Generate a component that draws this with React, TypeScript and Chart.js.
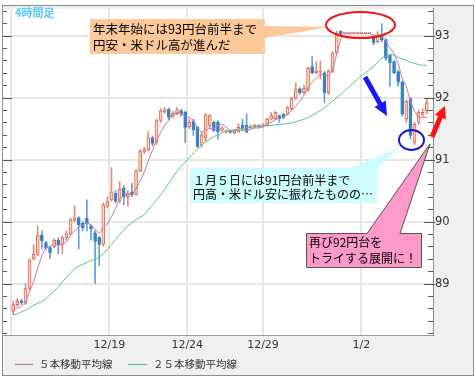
import React, { useEffect, useRef } from 'react';
import { Chart, registerables } from 'chart.js';

Chart.register(...registerables);

// 4-hour candles (USD/JPY)
const opens = [
  88.55, 88.66, 88.72, 88.69, 88.92, 89.40, 89.47, 89.78, 89.66, 89.58,
  89.60, 89.70, 89.63, 89.74, 89.80, 90.02, 90.06, 89.97, 90.05, 89.93,
  89.82, 89.74, 89.63, 90.25, 90.35, 90.46, 90.33, 90.54, 90.40, 90.48,
  90.44, 90.82, 91.13, 91.16, 91.35, 91.28, 91.63, 91.77, 91.81, 91.70,
  91.74, 91.79, 91.76, 91.53, 91.62, 91.52, 91.23, 91.35, 91.55, 91.60,
  91.60, 91.47, 91.44, 91.45, 91.43, 91.45, 91.56, 91.55, 91.52, 91.53,
  91.54, 91.53, 91.55, 91.65, 91.66, 91.71, 91.73, 91.73, 91.82, 91.99,
  92.14, 92.08, 92.13, 92.50, 92.40, 92.41, 92.40, 92.08, 92.42, 92.72,
  93.07, 93.04, 93.04, 93.04, 93.04, 93.04, 93.04, 93.04, 92.98, 92.90,
  93.00, 92.93, 92.68, 92.58, 92.42, 92.25, 91.65, 91.98, 91.28, 91.60,
  91.73, 91.79,
];
const highs = [
  88.72, 88.76, 88.75, 89.00, 89.40, 89.63, 89.93, 89.85, 89.68, 89.60,
  89.72, 89.74, 89.77, 89.85, 90.05, 90.25, 90.08, 90.00, 90.35, 89.95,
  89.85, 89.76, 90.30, 90.40, 90.87, 90.50, 90.65, 90.58, 90.50, 90.62,
  90.84, 91.16, 91.20, 91.45, 91.38, 91.66, 91.82, 91.84, 91.83, 91.78,
  91.84, 91.81, 91.78, 91.65, 91.65, 91.54, 91.45, 91.74, 91.73, 91.62,
  91.63, 91.53, 91.48, 91.47, 91.48, 91.58, 91.65, 91.74, 91.56, 91.57,
  91.56, 91.58, 91.67, 91.76, 91.78, 91.72, 91.75, 91.86, 92.00, 92.24,
  92.16, 92.20, 92.49, 92.66, 92.58, 92.59, 92.42, 92.45, 92.74, 93.07,
  93.08, 93.05, 93.05, 93.05, 93.05, 93.05, 93.05, 93.05, 93.00, 93.07,
  93.19, 92.95, 92.70, 92.60, 92.44, 92.27, 91.96, 92.00, 91.60, 91.80,
  91.82, 91.97,
];
const lows = [
  88.50, 88.63, 88.66, 88.66, 88.90, 89.38, 89.45, 89.56, 89.55, 89.40,
  89.58, 89.48, 89.48, 89.70, 89.78, 90.00, 89.56, 89.85, 89.85, 89.70,
  89.00, 89.29, 89.60, 90.22, 90.33, 90.30, 90.30, 90.27, 90.25, 90.40,
  90.42, 90.80, 91.10, 91.14, 91.22, 91.24, 91.60, 91.74, 91.64, 91.68,
  91.72, 91.70, 91.28, 91.50, 91.39, 91.19, 91.20, 91.28, 91.50, 91.45,
  91.33, 91.45, 91.42, 91.42, 91.41, 91.44, 91.47, 91.43, 91.50, 91.51,
  91.51, 91.52, 91.54, 91.64, 91.65, 91.60, 91.66, 91.72, 91.80, 91.97,
  92.05, 92.06, 92.10, 92.38, 92.38, 92.30, 91.92, 92.05, 92.40, 92.70,
  93.00, 93.03, 93.03, 93.03, 93.03, 93.03, 93.03, 93.03, 92.85, 92.88,
  92.90, 92.60, 92.18, 92.38, 92.18, 91.70, 91.60, 91.33, 91.24, 91.57,
  91.70, 91.74,
];
const closes = [
  88.66, 88.72, 88.69, 88.92, 89.37, 89.47, 89.78, 89.69, 89.58, 89.50,
  89.70, 89.62, 89.74, 89.80, 90.03, 90.06, 89.95, 89.90, 89.98, 89.88,
  89.68, 89.63, 90.27, 90.32, 90.48, 90.33, 90.52, 90.40, 90.46, 90.43,
  90.82, 91.14, 91.16, 91.35, 91.26, 91.63, 91.78, 91.80, 91.68, 91.75,
  91.80, 91.73, 91.52, 91.60, 91.48, 91.21, 91.40, 91.72, 91.71, 91.47,
  91.45, 91.51, 91.46, 91.44, 91.46, 91.52, 91.49, 91.44, 91.54, 91.56,
  91.53, 91.56, 91.65, 91.71, 91.76, 91.66, 91.68, 91.84, 91.99, 92.13,
  92.08, 92.15, 92.47, 92.40, 92.43, 92.43, 92.08, 92.43, 92.72, 93.04,
  93.02, 93.04, 93.04, 93.04, 93.04, 93.04, 93.04, 93.04, 92.88, 93.01,
  92.93, 92.63, 92.56, 92.40, 92.25, 91.73, 91.94, 91.39, 91.57, 91.76,
  91.76, 91.92,
];
// 5-bar moving average
const ma5 = [
  88.58, 88.60, 88.63, 88.70, 88.87, 89.03, 89.25, 89.45, 89.58, 89.60,
  89.65, 89.62, 89.63, 89.67, 89.78, 89.85, 89.92, 89.95, 89.98, 89.95,
  89.88, 89.81, 89.89, 89.96, 90.08, 90.21, 90.38, 90.41, 90.44, 90.43,
  90.53, 90.65, 90.80, 90.98, 91.15, 91.31, 91.44, 91.56, 91.63, 91.73,
  91.76, 91.75, 91.70, 91.68, 91.63, 91.51, 91.44, 91.48, 91.50, 91.50,
  91.55, 91.57, 91.52, 91.47, 91.46, 91.48, 91.47, 91.47, 91.49, 91.51,
  91.51, 91.53, 91.57, 91.60, 91.64, 91.67, 91.69, 91.73, 91.79, 91.86,
  91.94, 92.04, 92.16, 92.25, 92.31, 92.38, 92.36, 92.35, 92.45, 92.70,
  92.95, 93.03, 93.03, 93.03, 93.03, 93.03, 93.03, 93.03, 93.01, 93.00,
  92.98, 92.90, 92.80, 92.71, 92.55, 92.31, 92.18, 91.94, 91.78, 91.68,
  91.68, 91.68,
];
// 25-bar moving average
const ma25 = [
  88.49, 88.51, 88.54, 88.57, 88.61, 88.65, 88.68, 88.71, 88.76, 88.82,
  88.88, 88.94, 89.02, 89.10, 89.17, 89.24, 89.28, 89.31, 89.34, 89.37,
  89.39, 89.42, 89.48, 89.56, 89.63, 89.71, 89.79, 89.86, 89.93, 89.98,
  90.03, 90.07, 90.11, 90.19, 90.27, 90.35, 90.43, 90.52, 90.62, 90.72,
  90.81, 90.89, 90.96, 91.03, 91.10, 91.17, 91.23, 91.29, 91.33, 91.37,
  91.40, 91.43, 91.46, 91.47, 91.48, 91.49, 91.50, 91.51, 91.52, 91.53,
  91.54, 91.54, 91.55, 91.55, 91.56, 91.57, 91.57, 91.58, 91.59, 91.61,
  91.63, 91.65, 91.68, 91.71, 91.75, 91.79, 91.84, 91.89, 91.94, 92.00,
  92.05, 92.11, 92.17, 92.23, 92.29, 92.35, 92.40, 92.45, 92.50, 92.57,
  92.64, 92.67, 92.69, 92.69, 92.65, 92.62, 92.60, 92.57, 92.55, 92.53,
  92.52, 92.52,
];

// day boundaries (in bar units) and their labels
const xTickPos = [-0.5, 23.5, 42.5, 61, 85];
const xTickLabels = ['', '12/19', '12/24', '12/29', '1/2'];
const yTickValues = [89, 90, 91, 92, 93];
const legendLabels = ['５本移動平均線', '２５本移動平均線'];
const timeframeLabel = '4時間足';
const note1 = ['年末年始には93円台前半まで', '円安・米ドル高が進んだ'];
const note2 = ['１月５日には91円台前半まで', '円高・米ドル安に振れたものの…'];
const note3 = ['再び92円台を', 'トライする展開に！'];

const JP = '"Noto Sans CJK JP", "Noto Sans", sans-serif';
const UP_BORDER = '#e2694e';
const UP_FILL = '#f9d4c7';
const DOWN = '#3a80c2';
const UP_WICK = '#e58a76';
const DOWN_WICK = '#62a0d6';
const MA5_COLOR = '#c57aa6';
const MA25_COLOR = '#4fc98a';

function drawArrow(ctx: CanvasRenderingContext2D, x1: number, y1: number, x2: number, y2: number, color: string, w: number, hl: number, hw: number) {
  const ang = Math.atan2(y2 - y1, x2 - x1);
  const c = Math.cos(ang), s = Math.sin(ang);
  const bx = x2 - hl * c, by = y2 - hl * s;
  ctx.save();
  ctx.strokeStyle = color;
  ctx.fillStyle = color;
  ctx.lineWidth = w;
  ctx.beginPath();
  ctx.moveTo(x1, y1);
  ctx.lineTo(bx + c, by + s);
  ctx.stroke();
  ctx.beginPath();
  ctx.moveTo(x2, y2);
  ctx.lineTo(bx - (hw / 2) * s, by + (hw / 2) * c);
  ctx.lineTo(bx + (hw / 2) * s, by - (hw / 2) * c);
  ctx.closePath();
  ctx.fill();
  ctx.restore();
}

function drawEllipse(ctx: CanvasRenderingContext2D, cx: number, cy: number, rx: number, ry: number, color: string) {
  ctx.save();
  ctx.strokeStyle = color;
  ctx.lineWidth = 2;
  ctx.beginPath();
  ctx.ellipse(cx, cy, rx, ry, 0, 0, Math.PI * 2);
  ctx.stroke();
  ctx.restore();
}

function drawLines(ctx: CanvasRenderingContext2D, lines: string[], x: number, y: number, gap: number, size: number) {
  ctx.save();
  ctx.fillStyle = '#000';
  ctx.font = `${size}px ${JP}`;
  ctx.textBaseline = 'middle';
  ctx.textAlign = 'left';
  lines.forEach((t, i) => ctx.fillText(t, x, y + i * gap));
  ctx.restore();
}

const decorPlugin = {
  id: 'decor',
  beforeDraw(chart: any) {
    const { ctx, chartArea: a } = chart;
    ctx.save();
    ctx.fillStyle = '#ffffff';
    ctx.fillRect(0, 0, chart.width, chart.height);
    ctx.fillStyle = '#f0f0f0';
    ctx.fillRect(2, 5, 472, 371);
    ctx.fillStyle = '#ffffff';
    ctx.fillRect(a.left, a.top, a.right - a.left, a.bottom - a.top);
    ctx.restore();
  },
  afterDraw(chart: any) {
    const { ctx, chartArea: a } = chart;
    const ys = chart.scales.y;
    ctx.save();
    // frame
    ctx.strokeStyle = '#8c8c8c';
    ctx.lineWidth = 1;
    ctx.strokeRect(2.5, 5.5, 471, 370);
    // tick marks on both sides
    ctx.strokeStyle = '#555';
    for (let k = 1; k < 40; k++) {
      const v = 88 + 0.2 * k;
      if (v > ys.max) break;
      if (v < ys.min) continue;
      const py = Math.round(ys.getPixelForValue(v)) + 0.5;
      const major = Math.abs(v - Math.round(v)) < 1e-6;
      ctx.beginPath();
      ctx.moveTo(a.left, py);
      ctx.lineTo(a.left + (major ? 9 : 4), py);
      ctx.moveTo(a.right - (major ? 9 : 5), py);
      ctx.lineTo(a.right + (major ? 2 : 0), py);
      ctx.stroke();
    }
    // timeframe label
    ctx.fillStyle = '#5cc8f5';
    ctx.font = `bold 11px ${JP}`;
    ctx.textBaseline = 'middle';
    ctx.fillText(timeframeLabel, 15, 13);
    // legend
    ctx.lineWidth = 1.2;
    ctx.strokeStyle = MA5_COLOR;
    ctx.beginPath(); ctx.moveTo(15, 364.5); ctx.lineTo(33, 364.5); ctx.stroke();
    ctx.strokeStyle = MA25_COLOR;
    ctx.beginPath(); ctx.moveTo(128, 364.5); ctx.lineTo(147, 364.5); ctx.stroke();
    ctx.fillStyle = '#333';
    ctx.font = `10.5px ${JP}`;
    ctx.fillText(legendLabels[0], 39, 364);
    ctx.fillText(legendLabels[1], 153, 364);

    // note 1 (peach)
    ctx.fillStyle = '#fdc99b';
    ctx.fillRect(90, 19, 175, 35);
    ctx.beginPath();
    ctx.moveTo(264, 26); ctx.lineTo(264, 38); ctx.lineTo(330, 27); ctx.closePath();
    ctx.fill();
    drawLines(ctx, note1, 93, 29, 16, 12.5);
    drawEllipse(ctx, 360.5, 25, 34.5, 13, '#ee1515');

    // note 2 (cyan)
    ctx.fillStyle = '#ccfcfe';
    ctx.fillRect(190, 168, 187, 35);
    ctx.beginPath();
    ctx.moveTo(350, 168.5); ctx.lineTo(377, 168.5); ctx.lineTo(400, 147); ctx.closePath();
    ctx.fill();
    drawLines(ctx, note2, 193, 180, 14, 12);
    drawEllipse(ctx, 411.5, 140, 12.5, 10, '#1515dd');

    // note 3 (pink)
    ctx.fillStyle = '#fd9acb';
    ctx.strokeStyle = '#555';
    ctx.lineWidth = 1;
    ctx.beginPath();
    ctx.moveTo(306.5, 233.5);
    ctx.lineTo(367, 233.5);
    ctx.lineTo(430, 144);
    ctx.lineTo(400, 233.5);
    ctx.lineTo(421.5, 233.5);
    ctx.lineTo(421.5, 267.5);
    ctx.lineTo(306.5, 267.5);
    ctx.closePath();
    ctx.fill();
    ctx.stroke();
    drawLines(ctx, note3, 309, 242, 16, 12);

    // arrows
    drawArrow(ctx, 365, 77, 387, 116, '#1a1aee', 5, 14, 13);
    drawArrow(ctx, 432, 137, 445, 106, '#ff1010', 5, 12, 12);
    ctx.restore();
  },
};

export default function App() {
  const ref = useRef<HTMLCanvasElement | null>(null);
  useEffect(() => {
    if (!ref.current) return;
    const up = opens.map((o, i) => closes[i] >= o);
    const chart = new Chart(ref.current, {
      type: 'bar',
      data: {
        datasets: [
          {
            type: 'line',
            label: legendLabels[0],
            data: ma5.map((v, i) => ({ x: i, y: v })),
            borderColor: MA5_COLOR,
            borderWidth: 1,
            pointRadius: 0,
            order: 0,
          } as any,
          {
            type: 'line',
            label: legendLabels[1],
            data: ma25.map((v, i) => ({ x: i, y: v })),
            borderColor: MA25_COLOR,
            borderWidth: 1,
            pointRadius: 0,
            order: 1,
          } as any,
          {
            type: 'bar',
            label: 'body',
            data: opens.map((o, i) => ({ x: i, y: [o, closes[i]] })),
            backgroundColor: up.map((u) => (u ? UP_FILL : DOWN)),
            borderColor: up.map((u) => (u ? UP_BORDER : DOWN)),
            borderWidth: 1,
            borderSkipped: false,
            barThickness: 3,
            minBarLength: 1,
            grouped: false,
            order: 2,
          } as any,
          {
            type: 'bar',
            label: 'wick',
            data: lows.map((l, i) => ({ x: i, y: [l, highs[i]] })),
            backgroundColor: up.map((u) => (u ? UP_WICK : DOWN_WICK)),
            borderWidth: 0,
            barThickness: 1,
            grouped: false,
            order: 3,
          } as any,
        ],
      },
      options: {
        responsive: false,
        animation: false,
        devicePixelRatio: 1,
        events: [],
        layout: { padding: { left: 3, right: 3, top: 6, bottom: 25 } },
        plugins: { legend: { display: false }, tooltip: { enabled: false } },
        scales: {
          x: {
            type: 'linear',
            min: -2.49,
            max: 102.51,
            offset: false,
            afterBuildTicks: (s: any) => {
              s.ticks = xTickPos.map((v) => ({ value: v }));
            },
            afterFit: (s: any) => {
              s.height = 20;
            },
            ticks: {
              autoSkip: false,
              maxRotation: 0,
              padding: 4,
              color: '#333',
              font: { family: '"DejaVu Sans"', size: 11 },
              callback: (v: any) => {
                const i = xTickPos.indexOf(Number(v));
                return i >= 0 ? xTickLabels[i] : '';
              },
            },
            grid: { color: '#e6e6e6', lineWidth: 2, drawTicks: false, offset: false },
            border: { color: '#999', width: 1 },
          },
          y: {
            position: 'right',
            min: 88.17,
            max: 93.43,
            afterBuildTicks: (s: any) => {
              s.ticks = yTickValues.map((v) => ({ value: v }));
            },
            afterFit: (s: any) => {
              s.width = 40;
            },
            ticks: {
              padding: 2,
              color: '#333',
              font: { family: '"DejaVu Sans"', size: 11.5 },
              callback: (v: any) => String(v),
            },
            grid: { color: '#e6e6e6', lineWidth: 2, drawTicks: false },
            border: { color: '#888', width: 1 },
          },
        },
      } as any,
      plugins: [decorPlugin],
    });
    return () => chart.destroy();
  }, []);
  return (
    <div style={{ position: 'fixed', left: 0, top: 0, width: 476, height: 380 }}>
      <canvas ref={ref} width={476} height={380} style={{ width: 476, height: 380, display: 'block' }} />
    </div>
  );
}
